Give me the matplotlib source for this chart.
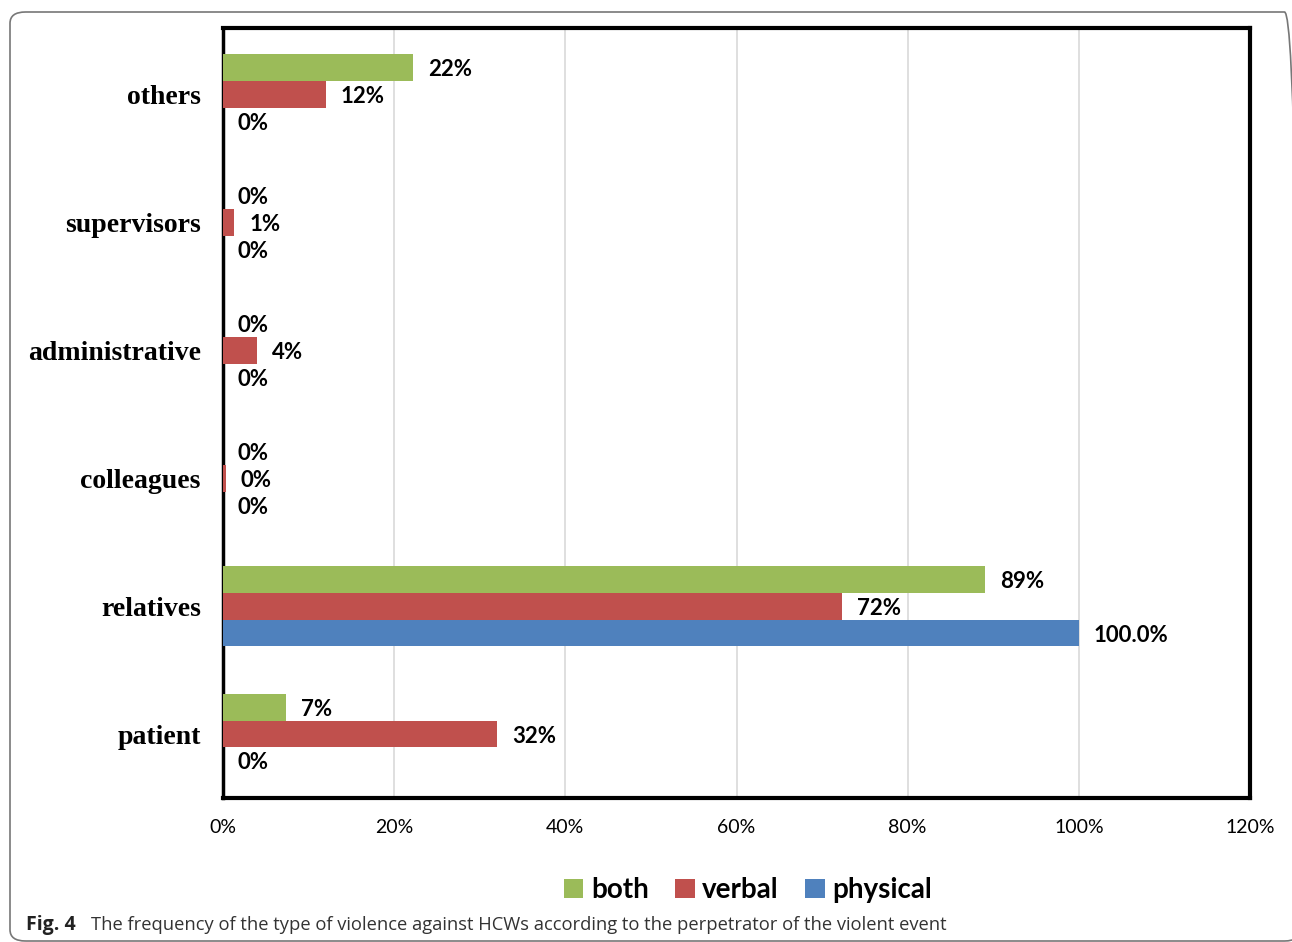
import matplotlib
matplotlib.use("Agg")
import matplotlib.pyplot as plt
import numpy as np
from matplotlib.patches import FancyBboxPatch, Patch

# Perpetrator categories (bottom to top) and share of each violence type (%)
categories = ["patient", "relatives", "colleagues", "administrative", "supervisors", "others"]
both = [7.4, 89, 0, 0, 0, 22.2]
verbal = [32, 72.3, 0.3, 4, 1.3, 12]
physical = [0, 100, 0, 0, 0, 0]
x_ticks = [0, 20, 40, 60, 80, 100, 120]

series = [("both", both, "#9BBB59", 1),
          ("verbal", verbal, "#C0504D", 0),
          ("physical", physical, "#4F81BD", -1)]

fig = plt.figure(figsize=(12.92, 9.42), dpi=100)
ax = fig.add_axes([223 / 1292, 1 - 798 / 942, 1027 / 1292, 770 / 942])

y = np.arange(len(categories))
bar_h = 0.21


def fmt(v):
    return f"{v:.1f}%" if v >= 100 else f"{v:.0f}%"


for name, vals, color, shift in series:
    ypos = y + shift * bar_h
    ax.barh(ypos, vals, height=bar_h, color=color, zorder=3, label=name)
    for yy, v in zip(ypos, vals):
        ax.annotate(fmt(v), xy=(v, yy), xytext=(15, -2), textcoords="offset pixels",
                    ha="left", va="center", fontsize=16, fontweight="bold",
                    family="Lato", color="black", zorder=4)

ax.set_xlim(0, 120)
ax.set_ylim(-0.5, 5.52)
ax.set_xticks(x_ticks)
ax.set_xticklabels([f"{t}%" for t in x_ticks], family="Lato", fontsize=14)
ax.set_yticks(y)
ax.set_yticklabels(categories, family="Liberation Serif", fontweight="bold", fontsize=20)
ax.tick_params(axis="both", length=0)
ax.tick_params(axis="x", pad=15)
ax.tick_params(axis="y", pad=16)
ax.grid(axis="x", color="#D9D9D9", linewidth=1.2, zorder=0)
ax.grid(axis="y", visible=False)
for side, sp in ax.spines.items():
    sp.set_color("black")
    sp.set_linewidth(3)
ax.spines["left"].set_linewidth(2.5)

handles = [Patch(facecolor=c, label=n) for n, _, c, _ in series]
fig.legend(handles=handles, loc="center", bbox_to_anchor=(748 / 1292, 1 - 890 / 942),
           ncol=3, frameon=False, handlelength=0.7, handleheight=0.7,
           handletextpad=0.28, columnspacing=0.95,
           prop={"family": "Lato", "weight": "bold", "size": 20})

# Caption
fig.text(26 / 1292, 1 - 925 / 942, "Fig. 4", family="Open Sans", fontweight="bold",
         fontsize=14, color="#222222", ha="left", va="center")
fig.text(91 / 1292, 1 - 925 / 942,
         "The frequency of the type of violence against HCWs according to the perpetrator of the violent event",
         family="Open Sans", fontsize=13.2, color="#333333", ha="left", va="center")

# Rounded panel outline (right side runs past the figure edge)
panel = FancyBboxPatch((10 / 1292, 1 / 942), 1290 / 1292, 929 / 942,
                       boxstyle="round,pad=0,rounding_size=0.012",
                       transform=fig.transFigure, facecolor="none",
                       edgecolor="#777777", linewidth=1.2, zorder=-1)
fig.patches.append(panel)

fig.savefig("out.png", dpi=100)
